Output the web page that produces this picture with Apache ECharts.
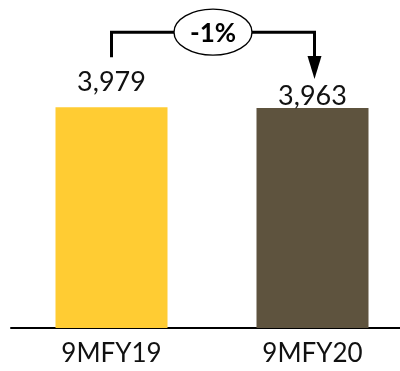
<!DOCTYPE html>
<html>
<head>
<meta charset="utf-8">
<script src="https://cdn.jsdelivr.net/npm/echarts@6/dist/echarts.min.js"></script>
<style>
  html, body { margin: 0; padding: 0; background: #fff; }
  #chart { width: 400px; height: 371px; }
</style>
</head>
<body>
<div id="chart"></div>
<script>
// Nine-month revenue comparison
const categories = ['9MFY19', '9MFY20'];
const values = [3979, 3963];
const barColors = ['#FFCC33', '#5E533E'];
const changeLabel = '-1%';

const FONT = 'Lato';
const chart = echarts.init(document.getElementById('chart'), null, { renderer: 'canvas' });

const option = {
  animation: false,
  grid: { left: 11, width: 402, top: 106, bottom: 43, containLabel: false, outerBoundsMode: 'none' },
  xAxis: {
    type: 'category',
    data: categories,
    axisLine: { lineStyle: { color: '#000', width: 2 } },
    axisTick: { show: false },
    axisLabel: { color: '#111', fontFamily: FONT, fontSize: 26, margin: 13 }
  },
  yAxis: {
    type: 'value', min: 0, max: 4000, show: false, splitLine: { show: false }
  },
  series: [{
    type: 'bar',
    barWidth: 112,
    data: values.map((v, i) => ({
      value: v,
      itemStyle: { color: barColors[i] },
      label: { distance: i === 0 ? 11 : -2 }
    })),
    label: {
      show: true,
      position: 'top',
      color: '#111',
      fontFamily: FONT,
      fontSize: 27,
      formatter: p => p.value.toLocaleString('en-US')
    }
  }]
};
chart.setOption(option);

// Change bracket: from the first bar down to the second, with a bubble in the middle
const p1 = chart.convertToPixel({ seriesIndex: 0 }, [0, values[0]]);
const p2 = chart.convertToPixel({ seriesIndex: 0 }, [1, values[1]]);
const topY = p1[1] - 75;
const legBottom = p1[1] - 50;
const tipY = p2[1] - 29;
const x2 = p2[0] + 2;
const midX = (p1[0] + x2) / 2;
const rx = 39, ry = 23;
const stroke = { stroke: '#000', lineWidth: 3, fill: null };

chart.setOption({
  graphic: [
    { type: 'polyline', shape: { points: [[p1[0], legBottom], [p1[0], topY], [midX - rx, topY]] }, style: stroke },
    { type: 'polyline', shape: { points: [[midX + rx, topY], [x2, topY], [x2, tipY - 20]] }, style: stroke },
    { type: 'polygon', shape: { points: [[x2 - 7, tipY - 23], [x2 + 7, tipY - 23], [x2, tipY]] }, style: { fill: '#000' } },
    { type: 'ellipse', shape: { cx: midX, cy: topY, rx: rx, ry: ry }, style: { fill: '#fff', stroke: '#000', lineWidth: 1.4 } },
    { type: 'text', x: midX, y: topY + 1, style: { text: changeLabel, fill: '#000', font: 'bold 26px ' + FONT, align: 'center', verticalAlign: 'middle' } }
  ]
});
</script>
</body>
</html>
